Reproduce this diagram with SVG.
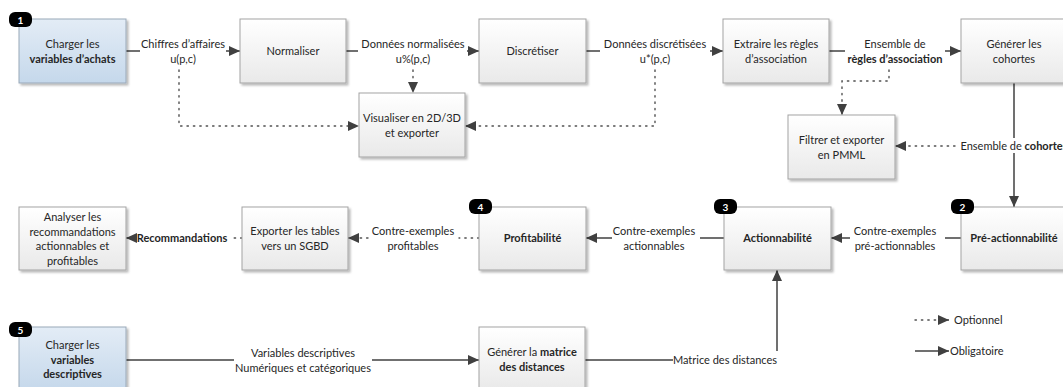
<svg xmlns="http://www.w3.org/2000/svg" width="1063" height="387" viewBox="0 0 1063 387">
<defs>
<linearGradient id="gGray" x1="0" y1="0" x2="0" y2="1">
<stop offset="0" stop-color="#ffffff"/>
<stop offset="1" stop-color="#e9e9e9"/>
</linearGradient>
<linearGradient id="gBlue" x1="0" y1="0" x2="0" y2="1">
<stop offset="0" stop-color="#e3ecf6"/>
<stop offset="1" stop-color="#c5d8eb"/>
</linearGradient>
<filter id="sh" x="-10%" y="-10%" width="130%" height="130%">
<feDropShadow dx="2" dy="2" stdDeviation="1.3" flood-color="#000" flood-opacity="0.28"/>
</filter>
<marker id="ah" markerUnits="userSpaceOnUse" markerWidth="11" markerHeight="10" refX="11" refY="5" orient="auto">
<path d="M0,0 L11,5 L0,10 z" fill="#404040"/>
</marker>
</defs>
<style>
text{font-family:Lato,"Liberation Sans",sans-serif;font-size:11px;fill:#262626}
.c{text-anchor:middle}
.b{font-weight:bold}
.box{fill:url(#gGray);stroke:#a3a3a3;stroke-width:1;filter:url(#sh)}
.blue{fill:url(#gBlue);stroke:#9aa9b8;stroke-width:1;filter:url(#sh)}
.badge{fill:#000}
.bt{fill:#fff;font-weight:bold;font-size:10px;text-anchor:middle}
.s{fill:none;stroke:#404040;stroke-width:1.5}
.d{fill:none;stroke:#505050;stroke-width:1.4;stroke-dasharray:1.4 5;stroke-linecap:round}
.a{marker-end:url(#ah)}
</style>
<rect width="1063" height="387" fill="#fff"/>

<g id="connectors">
<path class="s" d="M126,51 H140"/><path class="s a" d="M226,51 H240"/>
<path class="s" d="M346,51 H358"/><path class="s a" d="M467,51 H479"/>
<path class="s" d="M586,51 H600"/><path class="s a" d="M710,51 H723"/>
<path class="s" d="M829,51 H845"/><path class="s a" d="M945,51 H961"/>
<path class="d a" d="M179,70 V126 H359"/>
<path class="d a" d="M413,70 V93"/>
<path class="d a" d="M655,70 V126 H465"/>
<path class="d a" d="M889,70 V81 H842 V115"/>
<path class="d a" d="M955,146 H895"/>
<path class="s" d="M1014,83 V138"/><path class="s a" d="M1014,153 V207"/>
<path class="s" d="M961,238 H945"/><path class="s a" d="M850,238 H831"/>
<path class="s" d="M724,238 H700"/><path class="s a" d="M612,238 H586"/>
<path class="d" d="M479,238 H459"/><path class="d a" d="M368,238 H348"/>
<path class="d" d="M242,238 H232"/><path class="s a" d="M137,238 H126"/>
<path class="s" d="M126,360 H234"/><path class="s a" d="M372,360 H479"/>
<path class="s" d="M585,360 H673"/><path class="s a" d="M777,351 V270"/>
<text class="c" x="183" y="48">Chiffres d’affaires</text><text class="c" x="183" y="63">u(p,c)</text>
<text class="c" x="413" y="48">Données normalisées</text><text class="c" x="413" y="63">u%(p,c)</text>
<text class="c" x="655" y="48">Données discrétisées</text><text class="c" x="655" y="63">u*(p,c)</text>
<text class="c" x="895" y="48">Ensemble de</text><text class="c b" x="895" y="63">règles d’association</text>
<text class="c" x="1014" y="150">Ensemble de <tspan class="b">cohortes</tspan></text>
<text class="c" x="895" y="235">Contre-exemples</text><text class="c" x="895" y="250">pré-actionnables</text>
<text class="c" x="654" y="235">Contre-exemples</text><text class="c" x="654" y="250">actionnables</text>
<text class="c" x="413" y="235">Contre-exemples</text><text class="c" x="413" y="250">profitables</text>
<text class="c b" x="182" y="242">Recommandations</text>
<text class="c" x="303" y="357">Variables descriptives</text><text class="c" x="303" y="372">Numériques et catégoriques</text>
<text class="c" x="725" y="364">Matrice des distances</text>
</g>

<g id="legend">
<path class="d" d="M915,320 H936"/><path class="s a" d="M940,320 H949"/>
<text x="954" y="324">Optionnel</text>
<path class="s a" d="M915,351 H949"/>
<text x="950" y="355">Obligatoire</text>
</g>

<g id="n1">
<rect class="blue" x="19" y="19" width="107" height="64"/>
<text class="c" x="72.5" y="48">Charger les</text><text class="c b" x="72.5" y="63">variables d’achats</text>
<rect class="badge" x="9" y="12" width="23" height="15" rx="6"/><text class="bt" x="20.5" y="23.5">1</text>
</g>
<g id="n-normaliser">
<rect class="box" x="240" y="19" width="106" height="64"/>
<text class="c" x="293" y="55">Normaliser</text>
</g>
<g id="n-discretiser">
<rect class="box" x="479" y="19" width="107" height="64"/>
<text class="c" x="532.5" y="55">Discrétiser</text>
</g>
<g id="n-extraire">
<rect class="box" x="723" y="19" width="106" height="64"/>
<text class="c" x="776" y="48">Extraire les règles</text><text class="c" x="776" y="63">d’association</text>
</g>
<g id="n-cohortes">
<rect class="box" x="961" y="19" width="108" height="64"/>
<text class="c" x="1014" y="48">Générer les</text><text class="c" x="1014" y="63">cohortes</text>
</g>
<g id="n-visualiser">
<rect class="box" x="359" y="93" width="106" height="64"/>
<text class="c" x="412" y="122">Visualiser en 2D/3D</text><text class="c" x="412" y="137">et exporter</text>
</g>
<g id="n-filtrer">
<rect class="box" x="788" y="115" width="107" height="64"/>
<text class="c" x="841.5" y="144">Filtrer et exporter</text><text class="c" x="841.5" y="159">en PMML</text>
</g>
<g id="n-analyser">
<rect class="box" x="19" y="207" width="107" height="63"/>
<text class="c" x="72.5" y="221">Analyser les</text><text class="c" x="72.5" y="235.5">recommandations</text><text class="c" x="72.5" y="250">actionnables et</text><text class="c" x="72.5" y="264.5">profitables</text>
</g>
<g id="n-exporter">
<rect class="box" x="242" y="207" width="106" height="63"/>
<text class="c" x="295" y="235">Exporter les tables</text><text class="c" x="295" y="250">vers un SGBD</text>
</g>
<g id="n4">
<rect class="box" x="479" y="207" width="107" height="63"/>
<text class="c b" x="532.5" y="242">Profitabilité</text>
<rect class="badge" x="469" y="199" width="23" height="15" rx="6"/><text class="bt" x="480.5" y="210.5">4</text>
</g>
<g id="n3">
<rect class="box" x="724" y="207" width="107" height="63"/>
<text class="c b" x="777.5" y="242">Actionnabilité</text>
<rect class="badge" x="714" y="199" width="23" height="15" rx="6"/><text class="bt" x="725.5" y="210.5">3</text>
</g>
<g id="n2">
<rect class="box" x="961" y="207" width="108" height="63"/>
<text class="c b" x="1014" y="242">Pré-actionnabilité</text>
<rect class="badge" x="951" y="199" width="23" height="15" rx="6"/><text class="bt" x="962.5" y="210.5">2</text>
</g>
<g id="n5">
<rect class="blue" x="19" y="327" width="107" height="64"/>
<text class="c" x="72.5" y="349">Charger les</text><text class="c b" x="72.5" y="363.5">variables</text><text class="c b" x="72.5" y="378">descriptives</text>
<rect class="badge" x="9" y="322" width="23" height="15" rx="6"/><text class="bt" x="20.5" y="333.5">5</text>
</g>
<g id="n-matrice">
<rect class="box" x="479" y="327" width="106" height="64"/>
<text class="c" x="532" y="356">Générer la <tspan class="b">matrice</tspan></text><text class="c b" x="532" y="371">des distances</text>
</g>
</svg>
